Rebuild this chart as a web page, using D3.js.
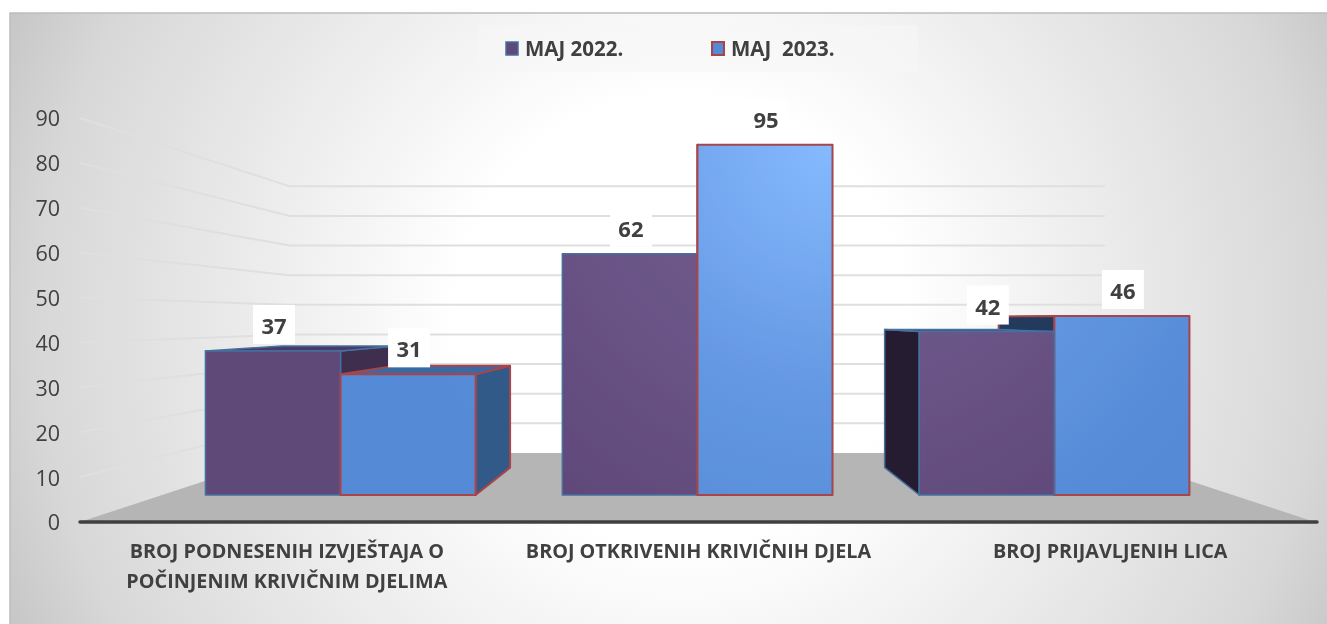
<!DOCTYPE html>
<html>
<head>
<meta charset="utf-8">
<script src="https://cdn.jsdelivr.net/npm/d3@7"></script>
<style>
  html, body { margin: 0; padding: 0; background: #fff; overflow: hidden; }
  svg { display: block; }
  text { font-family: "Open Sans", sans-serif; fill: #404040; white-space: pre; }
  .tick text { font-size: 21.5px; }
  .cat text { font-size: 19.8px; font-weight: 700; }
  .legend text { font-size: 20.5px; font-weight: 700; }
  .val text { font-size: 22px; font-weight: 700; }
</style>
</head>
<body>
<script>
const categories = [
  ['BROJ PODNESENIH IZVJEŠTAJA O', 'POČINJENIM KRIVIČNIM DJELIMA'],
  ['BROJ OTKRIVENIH KRIVIČNIH DJELA'],
  ['BROJ PRIJAVLJENIH LICA']
];
const seriesNames = ['MAJ 2022.', 'MAJ  2023.'];
const values2022 = [37, 62, 42];
const values2023 = [31, 95, 46];
const yTicks = [0, 10, 20, 30, 40, 50, 60, 70, 80, 90];

const width = 1327, height = 624;

// perspective of the 3D chart: everything shrinks toward one point
const vanish = { x: 697, y: 319 };
const wallDepth = 0.34, barFront = 0.133, barBack = 0.268;
const project = (x, y, t) => [x + t * (vanish.x - x), y + t * (vanish.y - y)];

const x0 = d3.scaleBand()
  .domain(d3.range(categories.length))
  .range([80, 1315])
  .paddingInner(0.243)
  .paddingOuter(0.1215);
const x1 = d3.scaleBand()
  .domain([0, 1])
  .range([0, x0.bandwidth()]);
// axis stops at 90, so the 95 bar is cut off at the top
const y = d3.scaleLinear().domain([0, 90]).range([522, 118]).clamp(true);

const svg = d3.select('body').append('svg')
  .attr('width', width)
  .attr('height', height);

const defs = svg.append('defs');

function radial(id, cx, cy, r, stops) {
  const g = defs.append('radialGradient')
    .attr('id', id)
    .attr('gradientUnits', 'userSpaceOnUse')
    .attr('cx', cx).attr('cy', cy).attr('r', r);
  stops.forEach(s => g.append('stop').attr('offset', s[0]).attr('stop-color', s[1]));
}
radial('bg', 680, 320, 750, [[0.3, '#ffffff'], [0.85, '#d8d8d8'], [1, '#c4c4c4']]);
radial('purple', 830, 144, 450, [[0, '#78618f'], [0.55, '#6a5386'], [1, '#5f4978']]);
radial('blue', 830, 144, 450, [[0, '#85baff'], [0.55, '#6498e2'], [1, '#548ad6']]);

defs.append('filter').attr('id', 'soft')
  .append('feGaussianBlur').attr('stdDeviation', 0.6);

const root = svg.append('g').attr('filter', 'url(#soft)');

root.append('rect')
  .attr('x', 10).attr('y', 13)
  .attr('width', width - 10).attr('height', height - 13)
  .attr('fill', 'url(#bg)');
root.append('path')
  .attr('d', `M10,${height}V13H${width}`)
  .attr('fill', 'none')
  .attr('stroke', '#bdbdbd')
  .attr('stroke-width', 1.5);

// legend band
root.append('rect')
  .attr('x', 478).attr('y', 25)
  .attr('width', 440).attr('height', 47)
  .attr('fill', '#f7f7f7')
  .attr('opacity', 0.6);

// floor
const [xMin, xMax] = x0.range();
const line = d3.line();
root.append('path')
  .attr('d', line([
    [xMin, y(0)], [xMax, y(0)],
    project(xMax, y(0), wallDepth), project(xMin, y(0), wallDepth)
  ]) + 'Z')
  .attr('fill', '#b5b5b5');

// gridlines run along the left wall and then across the back wall
root.append('g')
  .selectAll('path')
  .data(yTicks.filter(d => d > 0))
  .enter()
  .append('path')
  .attr('d', d => line([
    [xMin, y(d)],
    project(xMin, y(d), wallDepth),
    project(xMax, y(d), wallDepth)
  ]))
  .attr('fill', 'none')
  .attr('stroke', '#dfdfdf')
  .attr('stroke-width', 2);

// axis line
root.append('line')
  .attr('x1', xMin).attr('x2', xMax + 2)
  .attr('y1', y(0)).attr('y2', y(0))
  .attr('stroke', '#404040')
  .attr('stroke-width', 3.5)
  .attr('stroke-linecap', 'round');

// y axis labels
const yAxis = root.append('g')
  .attr('transform', `translate(${xMin - 20},1)`)
  .call(d3.axisLeft(y).tickValues(yTicks).tickSize(0).tickPadding(0));
yAxis.select('.domain').remove();

const seriesStyle = [
  { fill: 'url(#purple)', stroke: '#44709f', strokeWidth: 1.5, left: '#271d30', right: '#402d50', top: '#4a3a68' },
  { fill: 'url(#blue)', stroke: '#a8444a', strokeWidth: 2, left: '#203a5c', right: '#335a88', top: '#3a6aa2' }
];

function drawBar(layer, cat, s, value) {
  const st = seriesStyle[s];
  const xl = x0(cat) + x1(s), xr = xl + x1.bandwidth();
  const yb = y(0), yt = y(value);
  const p = project;
  const g = layer.append('g')
    .attr('stroke', st.stroke)
    .attr('stroke-width', st.strokeWidth)
    .attr('stroke-linejoin', 'round');
  const face = (pts, fill) => g.append('path').attr('d', line(pts) + 'Z').attr('fill', fill);

  if (xr < vanish.x) {
    face([p(xr, yb, barFront), p(xr, yb, barBack), p(xr, yt, barBack), p(xr, yt, barFront)], st.right);
  }
  if (xl > vanish.x) {
    face([p(xl, yb, barFront), p(xl, yb, barBack), p(xl, yt, barBack), p(xl, yt, barFront)], st.left);
  }
  if (yt > vanish.y) {
    face([p(xl, yt, barFront), p(xr, yt, barFront), p(xr, yt, barBack), p(xl, yt, barBack)], st.top);
  }
  face([p(xl, yb, barFront), p(xr, yb, barFront), p(xr, yt, barFront), p(xl, yt, barFront)], st.fill);
}

// paint the far bar first on each side of the vanishing point
const bars = root.append('g');
categories.forEach((c, i) => {
  const order = x0(i) + x0.bandwidth() / 2 > vanish.x + 50 ? [1, 0] : [0, 1];
  order.forEach(s => drawBar(bars, i, s, s === 0 ? values2022[i] : values2023[i]));
});

// value labels sit on small white boxes
const labels = root.append('g').attr('class', 'val');
categories.forEach((c, i) => {
  [values2022[i], values2023[i]].forEach((v, s) => {
    const xm = x0(i) + x1(s) + x1.bandwidth() / 2;
    const [px, py] = project(xm, y(v), barFront);
    labels.append('rect')
      .attr('x', px - 20).attr('y', py - 46)
      .attr('width', 42).attr('height', 39)
      .attr('fill', '#fff');
    labels.append('text')
      .attr('x', px + 1).attr('y', py - 17)
      .attr('text-anchor', 'middle')
      .text(v);
  });
});

// category labels
const cat = root.append('g').attr('class', 'cat');
categories.forEach((lines, i) => {
  lines.forEach((l, j) => {
    cat.append('text')
      .attr('x', x0(i) + x0.bandwidth() / 2 + 1)
      .attr('y', 558 + j * 30)
      .attr('text-anchor', 'middle')
      .text(l);
  });
});

// legend
const legendX = [506, 712];
const legendFill = ['#5f4978', '#548ad6'];
const legend = root.append('g').attr('class', 'legend');
seriesNames.forEach((n, s) => {
  const st = seriesStyle[s];
  legend.append('rect')
    .attr('x', legendX[s]).attr('y', 42)
    .attr('width', 12).attr('height', 13)
    .attr('fill', legendFill[s])
    .attr('stroke', st.stroke)
    .attr('stroke-width', st.strokeWidth);
  legend.append('text')
    .attr('x', legendX[s] + 19).attr('y', 55.5)
    .text(n);
});
</script>
</body>
</html>
